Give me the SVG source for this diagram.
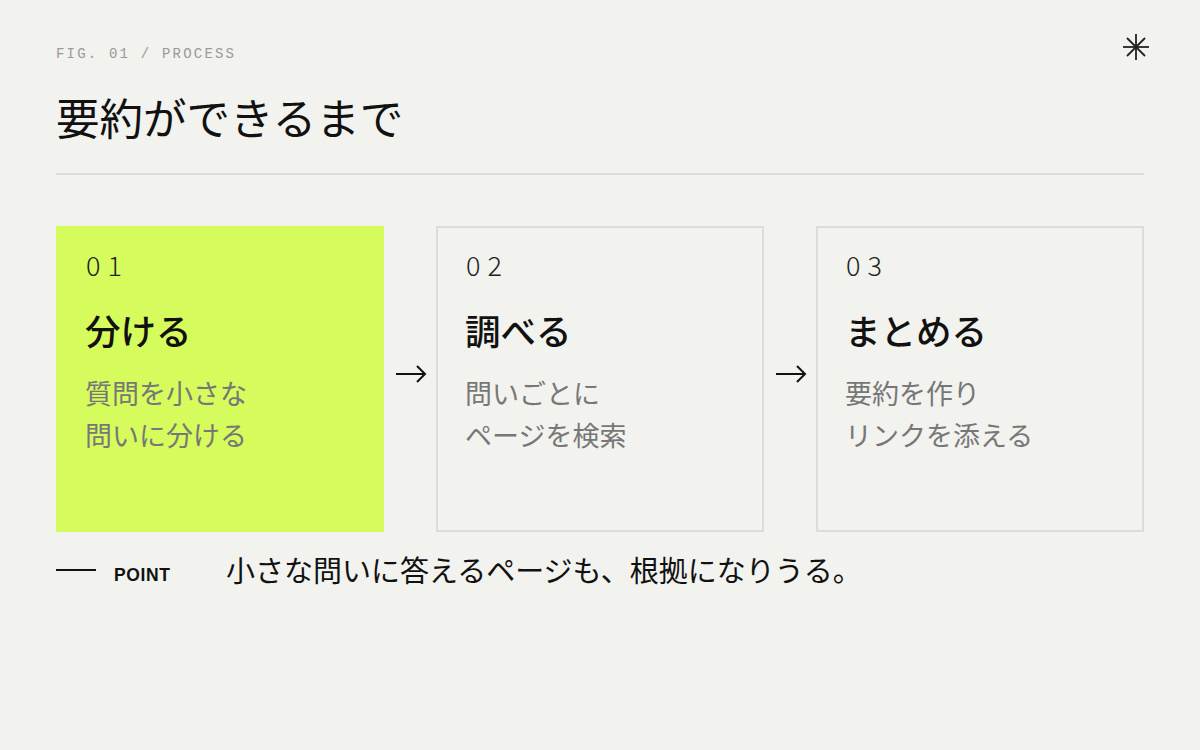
<svg xmlns="http://www.w3.org/2000/svg" width="1200" height="750" viewBox="0 0 1200 750">
<style>
.jp{font-family:"Noto Sans CJK JP","Noto Sans",sans-serif}
.mono{font-family:"Liberation Mono",monospace}
.num{font-family:"Noto Sans CJK JP","Noto Sans",sans-serif;font-weight:300;font-size:27px;letter-spacing:7px;fill:#222}
.head{font-size:35.5px;font-weight:500;fill:#111}
.desc{font-size:27px;fill:#777}
.box{fill:none;stroke:#dcdcd8;stroke-width:2}
.conn{stroke:#111;stroke-width:2;fill:none}
</style>
<rect width="1200" height="750" fill="#f2f2ee"/>
<text x="56" y="58" class="mono" font-size="14" letter-spacing="2.2" fill="#9a9a9a">FIG. 01 / PROCESS</text>
<g stroke="#222" stroke-width="1.8">
<line x1="1136" y1="34" x2="1136" y2="60"/>
<line x1="1123" y1="47" x2="1149" y2="47"/>
<line x1="1127" y1="38" x2="1145" y2="56"/>
<line x1="1145" y1="38" x2="1127" y2="56"/>
</g>
<text x="56" y="135" class="jp" font-size="43.5" fill="#111">要約ができるまで</text>
<line x1="56" y1="174" x2="1144" y2="174" stroke="#dcdcd8" stroke-width="2"/>
<g id="step1">
<rect x="56" y="226" width="328" height="306" fill="#d6fb5c"/>
<text x="86" y="276" class="num">01</text>
<text x="85" y="345" class="jp head">分ける</text>
<text x="85" y="404" class="jp desc">質問を小さな</text>
<text x="85" y="446" class="jp desc">問いに分ける</text>
</g>
<g id="step2">
<rect x="437" y="227" width="326" height="304" class="box"/>
<text x="466" y="276" class="num">02</text>
<text x="465" y="345" class="jp head">調べる</text>
<text x="465" y="404" class="jp desc">問いごとに</text>
<text x="465" y="446" class="jp desc">ページを検索</text>
</g>
<g id="step3">
<rect x="817" y="227" width="326" height="304" class="box"/>
<text x="846" y="276" class="num">03</text>
<text x="845" y="345" class="jp head">まとめる</text>
<text x="845" y="404" class="jp desc">要約を作り</text>
<text x="845" y="446" class="jp desc">リンクを添える</text>
</g>
<g id="connectors">
<path class="conn" d="M396 374 H425 M417 366 L425 374 L417 382"/>
<path class="conn" d="M776 374 H805 M797 366 L805 374 L797 382"/>
</g>
<g id="point">
<line x1="56" y1="570" x2="96" y2="570" stroke="#111" stroke-width="2"/>
<text x="114" y="581" font-family="Liberation Sans,sans-serif" font-weight="bold" font-size="17.5" letter-spacing="0.6" fill="#111">POINT</text>
<text x="226" y="582" class="jp" font-size="29" fill="#111">小さな問いに答えるページも、根拠になりうる。</text>
</g>
</svg>
